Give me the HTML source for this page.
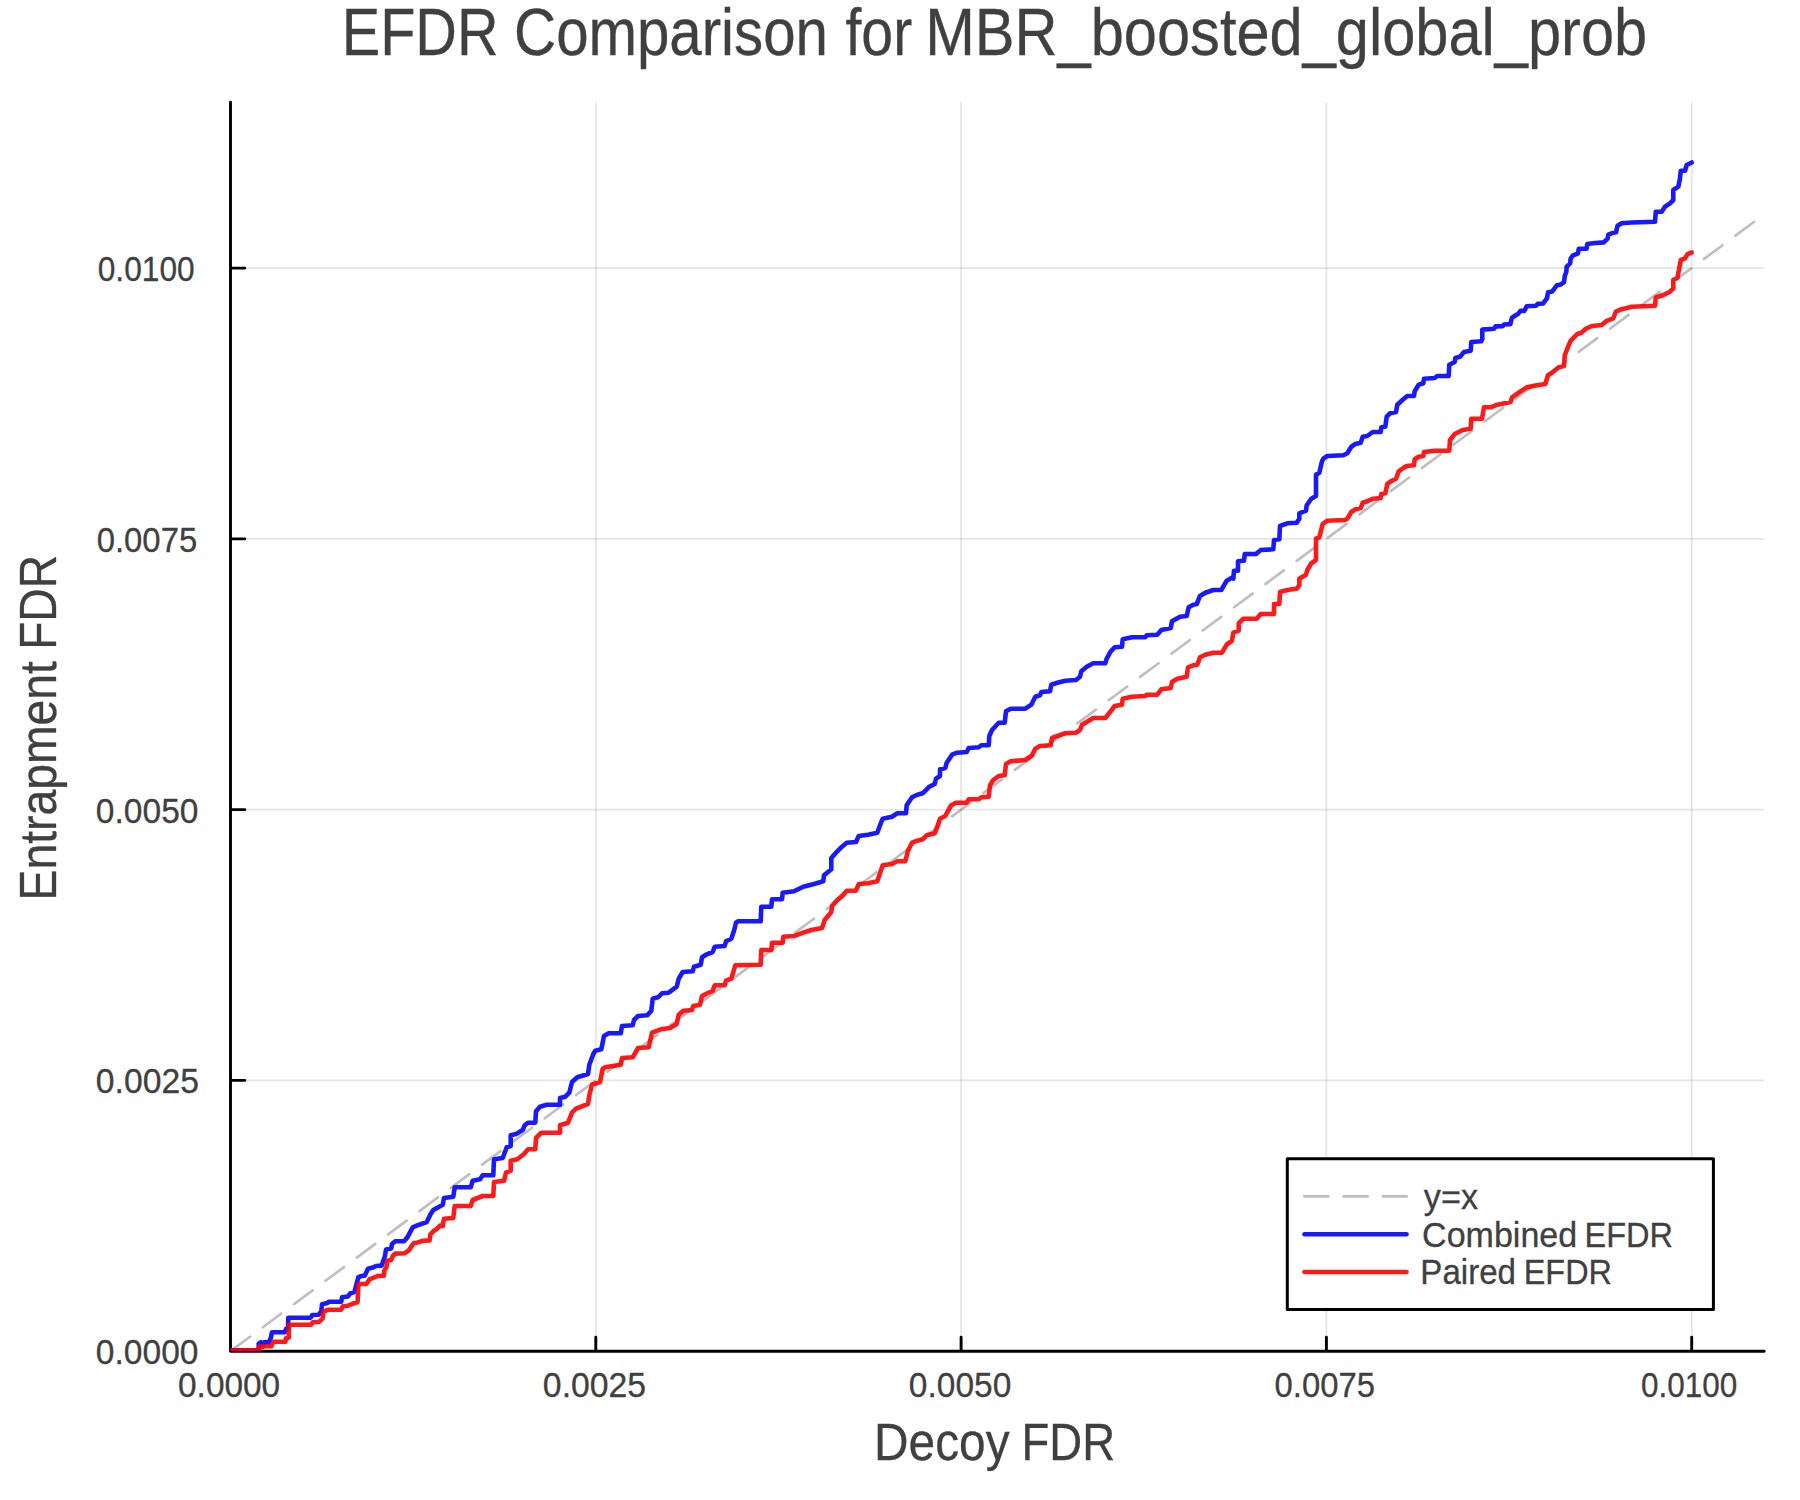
<!DOCTYPE html>
<html><head><meta charset="utf-8"><title>EFDR Comparison for MBR_boosted_global_prob</title>
<style>html,body{margin:0;padding:0;background:#fff;width:1800px;height:1500px;overflow:hidden}svg{display:block}</style>
</head><body>
<svg width="1800" height="1500" viewBox="0 0 1800 1500" font-family="'Liberation Sans', Arial, Helvetica, sans-serif">
<rect width="1800" height="1500" fill="#fff"/>
<path d="M595.80 102.3V1351.20M961.10 102.3V1351.20M1326.40 102.3V1351.20M1691.70 102.3V1351.20" stroke="#000" stroke-opacity="0.1" stroke-width="1.8" fill="none"/>
<path d="M230.50 1080.42H1764.2M230.50 809.64H1764.2M230.50 538.86H1764.2M230.50 268.08H1764.2" stroke="#000" stroke-opacity="0.1" stroke-width="1.8" fill="none"/>
<path d="M230.50 102.3V1351.20H1764.2M230.50 1351.20V1337.20M230.50 1351.20H244.80M595.80 1351.20V1337.20M230.50 1080.42H244.80M961.10 1351.20V1337.20M230.50 809.64H244.80M1326.40 1351.20V1337.20M230.50 538.86H244.80M1691.70 1351.20V1337.20M230.50 268.08H244.80" stroke="#000" stroke-width="2.9" fill="none" stroke-linecap="round" stroke-linejoin="round"/>
<text transform="translate(178.06 1397.00) scale(0.9486 1)" font-size="35.2" fill="#404040" stroke="#404040" stroke-width="0.3">0.0000</text>
<text transform="translate(95.86 1364.20) scale(0.9533 1)" font-size="35.2" fill="#404040" stroke="#404040" stroke-width="0.3">0.0000</text>
<text transform="translate(542.85 1397.00) scale(0.9594 1)" font-size="35.2" fill="#404040" stroke="#404040" stroke-width="0.3">0.0025</text>
<text transform="translate(95.85 1093.42) scale(0.9575 1)" font-size="35.2" fill="#404040" stroke="#404040" stroke-width="0.3">0.0025</text>
<text transform="translate(908.86 1397.00) scale(0.9514 1)" font-size="35.2" fill="#404040" stroke="#404040" stroke-width="0.3">0.0050</text>
<text transform="translate(95.86 822.64) scale(0.9533 1)" font-size="35.2" fill="#404040" stroke="#404040" stroke-width="0.3">0.0050</text>
<text transform="translate(1274.59 1397.00) scale(0.9336 1)" font-size="35.2" fill="#404040" stroke="#404040" stroke-width="0.3">0.0075</text>
<text transform="translate(96.69 551.86) scale(0.9336 1)" font-size="35.2" fill="#404040" stroke="#404040" stroke-width="0.3">0.0075</text>
<text transform="translate(1640.94 1397.00) scale(0.8952 1)" font-size="35.2" fill="#404040" stroke="#404040" stroke-width="0.3">0.0100</text>
<text transform="translate(97.73 281.08) scale(0.9009 1)" font-size="35.2" fill="#404040" stroke="#404040" stroke-width="0.3">0.0100</text>
<text transform="translate(341.70 54.80) scale(0.8695 1)" font-size="66.3" fill="#404040" stroke="#404040" stroke-width="0.3">EFDR</text>
<text transform="translate(514.09 54.80) scale(0.8782 1)" font-size="66.3" fill="#404040" stroke="#404040" stroke-width="0.3">Comparison</text>
<text transform="translate(845.49 54.80) scale(0.8625 1)" font-size="66.3" fill="#404040" stroke="#404040" stroke-width="0.3">for</text>
<text transform="translate(925.23 54.80) scale(0.8986 1)" font-size="66.3" fill="#404040" stroke="#404040" stroke-width="0.3">MBR_boosted_global_prob</text>
<text transform="translate(874.12 1459.90) scale(0.9257 1)" font-size="51.6" fill="#404040" stroke="#404040" stroke-width="0.3">Decoy</text>
<text transform="translate(1021.51 1459.90) scale(0.8816 1)" font-size="51.6" fill="#404040" stroke="#404040" stroke-width="0.3">FDR</text>
<text transform="translate(56.20 900.46) rotate(-90) scale(0.8907 1)" font-size="52" fill="#404040" stroke="#404040" stroke-width="0.3">Entrapment</text>
<text transform="translate(56.20 649.85) rotate(-90) scale(0.8879 1)" font-size="52" fill="#404040" stroke="#404040" stroke-width="0.3">FDR</text>
<defs><clipPath id="pc"><rect x="230.50" y="102.3" width="1533.70" height="1248.90"/></clipPath></defs>
<g clip-path="url(#pc)">
<path d="M230.50 1351.20L1754.00 221.90" stroke="#808080" stroke-opacity="0.5" stroke-width="2.7" stroke-dasharray="23 16" stroke-dashoffset="-1.25" stroke-linecap="round" fill="none"/>
<polyline points="230.6,1350.3 258.7,1350.3 258.7,1343.7 260.7,1342.3 262.3,1344.7 264.0,1342.3 268.7,1342.3 270.7,1338.3 272.0,1332.3 284.7,1332.3 286.0,1329.0 288.0,1328.3 288.3,1317.7 310.7,1317.7 312.3,1315.0 318.7,1314.7 321.3,1311.3 322.0,1304.3 327.3,1303.0 328.7,1301.7 341.3,1301.7 342.0,1297.3 348.0,1296.4 350.4,1293.2 354.4,1292.0 358.4,1277.2 361.6,1276.0 364.8,1275.6 368.0,1268.8 372.8,1267.6 376.0,1266.0 381.6,1265.6 384.8,1256.8 386.0,1249.6 391.2,1248.4 392.0,1244.0 395.2,1241.2 404.0,1241.2 407.2,1237.6 412.7,1227.3 417.3,1225.3 426.7,1222.0 430.7,1214.0 433.3,1210.0 442.7,1204.7 444.0,1198.0 453.3,1196.7 454.7,1187.3 470.7,1187.3 472.7,1180.7 480.0,1179.3 482.7,1175.3 493.3,1175.3 494.0,1159.3 502.7,1158.0 506.7,1147.3 510.7,1146.0 510.7,1135.3 516.0,1134.0 522.7,1130.0 524.7,1125.3 528.0,1122.7 535.3,1122.7 536.0,1111.3 540.0,1106.7 546.7,1104.7 560.0,1104.7 560.0,1098.0 565.3,1096.7 569.3,1092.7 572.0,1082.0 577.3,1077.3 588.0,1074.0 589.3,1064.7 593.3,1054.0 595.3,1050.7 601.3,1049.3 604.0,1036.0 608.7,1033.3 620.7,1033.3 622.0,1026.0 632.7,1025.3 634.0,1020.0 638.0,1016.0 647.3,1015.3 651.3,1010.7 652.7,998.7 658.0,997.3 662.0,993.3 668.7,992.7 676.7,986.7 678.7,978.7 682.7,972.0 692.7,971.3 694.0,966.7 700.7,964.7 702.0,957.3 706.0,954.7 712.7,952.0 714.7,946.7 724.7,946.0 726.0,941.3 731.3,938.7 734.0,930.7 736.0,922.7 738.0,921.3 760.7,921.3 761.3,906.7 771.3,906.7 772.0,899.3 782.0,899.3 782.7,892.7 794.0,891.3 803.3,886.7 814.0,884.0 823.3,881.3 824.0,875.3 831.3,869.3 831.3,858.0 836.0,852.7 842.0,846.7 846.7,842.7 856.0,842.0 858.7,836.0 868.0,834.7 877.3,832.7 880.0,825.3 882.7,818.7 892.0,816.7 897.3,813.3 906.0,813.3 906.7,805.3 912.0,797.3 917.3,794.7 922.7,793.3 929.3,786.7 934.7,784.0 936.0,778.7 940.0,776.0 940.0,769.3 945.3,768.0 946.7,762.7 952.0,754.7 957.3,752.7 966.7,752.0 968.7,748.0 978.7,747.3 981.3,745.3 988.7,745.3 989.3,736.0 992.0,730.0 998.7,722.7 1004.7,722.7 1006.0,711.3 1010.7,708.7 1025.3,708.7 1031.3,704.7 1035.3,696.7 1040.0,695.3 1041.3,692.0 1050.0,691.3 1051.3,684.7 1057.3,682.7 1065.3,680.7 1076.0,680.0 1080.0,676.7 1081.3,671.3 1086.7,666.7 1093.3,663.3 1105.3,663.3 1106.7,658.7 1110.7,651.3 1114.7,647.3 1122.0,646.7 1122.7,639.3 1132.0,637.3 1145.3,637.3 1146.7,635.3 1157.3,634.7 1161.3,630.0 1170.7,628.0 1172.0,621.3 1180.0,616.7 1186.7,616.0 1188.7,607.3 1193.3,604.7 1196.7,604.0 1200.0,596.0 1205.3,592.7 1213.3,590.0 1221.3,590.0 1226.7,580.7 1232.7,577.3 1233.3,578.7 1234.0,570.7 1238.0,570.7 1238.0,561.3 1244.0,560.7 1244.7,554.0 1256.0,554.0 1260.7,550.0 1273.3,549.3 1274.0,540.0 1279.3,539.3 1280.0,526.0 1287.3,523.3 1296.7,522.7 1299.3,518.7 1299.3,513.3 1306.0,510.7 1306.7,505.3 1311.3,498.7 1316.0,496.0 1316.0,474.7 1319.3,472.7 1322.0,461.3 1323.3,458.7 1327.3,456.0 1343.3,455.3 1347.3,453.3 1351.3,446.7 1355.3,444.0 1360.7,442.7 1362.7,436.7 1367.3,436.0 1372.7,432.0 1380.7,432.0 1381.3,427.3 1385.3,426.7 1386.7,416.7 1390.0,413.3 1396.0,412.0 1397.3,404.7 1403.3,399.3 1407.3,396.0 1414.0,396.0 1414.7,391.3 1418.7,384.7 1423.3,383.3 1424.0,378.7 1434.7,378.0 1437.3,376.0 1448.7,376.0 1449.3,364.7 1454.7,362.0 1455.3,358.0 1460.0,356.7 1464.0,352.0 1470.7,350.7 1471.3,342.0 1481.3,341.3 1482.3,338.9 1482.3,329.6 1494.0,328.8 1495.6,326.4 1502.6,326.1 1504.1,324.5 1510.3,324.1 1511.9,317.9 1515.0,315.6 1518.1,314.0 1520.4,310.9 1524.3,310.9 1526.7,306.2 1536.0,305.8 1537.6,303.9 1543.0,303.5 1546.9,298.4 1548.1,292.2 1552.3,291.4 1557.0,285.2 1560.9,284.4 1564.0,282.1 1564.8,275.9 1566.3,272.0 1566.7,266.6 1570.2,263.4 1570.6,258.8 1572.6,255.7 1578.0,253.3 1578.8,248.7 1586.6,248.7 1587.3,244.0 1592.8,243.2 1603.7,242.4 1607.6,238.6 1608.3,234.7 1612.2,233.1 1616.1,232.3 1617.5,225.8 1621.7,223.3 1631.7,222.5 1655.0,221.7 1655.8,211.7 1661.7,211.7 1665.0,206.7 1670.0,203.3 1673.3,200.0 1673.3,190.0 1678.3,186.7 1680.0,178.3 1680.8,170.8 1685.0,170.8 1686.7,165.0 1691.7,162.5" fill="none" stroke="#0000ff" stroke-opacity="0.9" stroke-width="4.6" stroke-linejoin="round" stroke-linecap="round"/>
<polyline points="230.6,1350.3 258.7,1350.3 259.3,1346.3 262.7,1347.0 264.0,1346.3 271.3,1346.3 273.3,1341.7 285.3,1341.7 286.0,1338.3 288.7,1337.7 289.0,1324.7 311.3,1324.7 312.7,1322.3 319.3,1321.7 322.7,1318.3 323.3,1311.7 326.7,1310.3 328.7,1309.7 341.3,1309.7 342.7,1306.3 348.0,1305.7 352.0,1304.0 357.6,1302.0 358.4,1284.0 366.4,1284.0 369.6,1279.2 372.0,1278.4 377.6,1276.0 384.0,1275.6 384.4,1270.4 386.4,1267.2 387.2,1260.8 391.2,1260.0 392.8,1256.0 395.2,1253.6 404.8,1253.2 408.8,1250.4 413.6,1243.2 417.6,1242.4 423.2,1240.8 429.6,1240.4 430.4,1234.4 433.6,1231.2 436.8,1228.8 440.0,1225.6 442.7,1226.0 444.0,1218.7 453.3,1218.0 454.7,1206.0 470.7,1206.0 472.7,1200.0 482.7,1196.0 493.3,1196.0 494.0,1182.0 504.0,1180.7 506.0,1172.7 510.7,1170.7 510.7,1160.7 517.3,1159.3 524.0,1154.0 528.0,1149.3 535.3,1149.3 536.0,1138.0 541.3,1132.7 560.0,1132.7 560.0,1125.3 568.0,1122.7 572.0,1112.7 576.0,1108.7 588.0,1104.0 589.3,1095.3 592.0,1084.7 600.0,1082.0 602.7,1068.7 605.3,1067.3 620.7,1064.7 622.0,1058.0 632.7,1057.3 638.0,1048.0 648.7,1047.3 652.0,1032.7 660.7,1029.3 670.0,1028.0 676.7,1024.0 678.7,1014.7 683.3,1010.7 692.0,1010.0 693.3,1006.0 700.0,1004.7 702.0,996.0 707.3,993.3 712.7,990.7 714.7,985.3 724.7,985.3 726.0,980.7 731.3,978.7 735.3,965.3 760.7,964.7 761.3,950.0 771.3,950.0 772.0,942.7 782.7,942.7 783.3,936.7 794.0,936.0 803.3,932.7 811.3,930.0 822.0,928.0 824.7,920.0 831.3,912.0 832.0,906.0 837.3,900.0 842.0,896.0 846.7,890.7 856.0,890.7 858.7,884.0 868.0,883.3 877.3,881.3 880.0,873.3 882.7,865.3 892.0,864.0 897.3,861.3 905.3,861.3 908.0,850.7 912.0,842.7 917.3,840.7 922.7,839.3 926.7,835.3 934.7,833.3 937.3,826.7 940.0,818.7 945.3,816.0 948.0,810.7 951.3,805.3 956.0,802.7 966.7,802.7 968.7,799.3 978.7,799.3 981.3,797.3 988.7,796.7 990.0,785.3 993.3,780.0 998.7,776.0 1004.7,775.3 1006.0,764.0 1010.7,761.3 1025.3,760.0 1032.0,755.3 1035.3,748.7 1040.0,746.0 1050.7,745.3 1052.0,738.0 1057.3,736.0 1065.3,733.3 1076.0,732.7 1080.0,730.0 1082.0,724.7 1086.7,722.0 1093.3,718.0 1105.3,718.0 1110.7,711.3 1114.7,706.0 1122.0,704.7 1122.7,698.7 1132.0,696.7 1145.3,696.0 1146.7,694.7 1157.3,694.7 1161.3,689.3 1170.7,688.0 1172.0,682.0 1177.3,678.7 1186.7,676.7 1188.0,667.3 1193.3,665.3 1197.3,664.7 1200.0,657.3 1205.3,654.7 1213.3,652.7 1222.0,652.7 1226.7,644.7 1232.0,640.7 1233.3,632.7 1238.7,630.7 1238.7,623.3 1243.3,618.7 1256.7,618.7 1260.7,614.0 1274.0,614.0 1274.0,604.0 1279.3,604.0 1280.0,592.0 1287.3,590.0 1296.7,588.7 1299.3,585.3 1299.3,578.7 1306.0,574.7 1307.3,570.0 1311.3,563.3 1316.0,560.0 1316.0,538.7 1319.3,537.3 1322.7,524.0 1327.3,520.7 1344.7,520.0 1347.3,518.7 1351.3,512.0 1355.3,509.3 1360.7,508.0 1362.7,502.7 1368.7,500.7 1373.3,498.7 1380.7,498.0 1381.3,494.0 1385.3,493.3 1387.3,484.0 1392.0,480.7 1396.0,478.7 1398.7,471.3 1403.3,468.0 1406.7,466.0 1414.0,465.3 1414.7,459.3 1418.7,456.7 1423.3,456.0 1424.0,452.0 1434.7,450.7 1449.3,450.7 1450.0,440.0 1454.7,434.0 1462.7,430.0 1470.7,428.7 1471.3,418.7 1482.0,418.7 1484.0,407.3 1490.7,407.3 1497.3,404.7 1510.7,402.0 1512.0,397.3 1518.7,392.7 1526.7,387.3 1537.3,385.3 1545.3,384.0 1548.0,375.3 1552.0,372.7 1558.7,367.3 1564.0,366.0 1564.7,355.3 1567.3,348.7 1570.7,340.7 1577.3,334.0 1581.3,332.7 1586.0,328.7 1592.0,326.0 1601.7,325.0 1606.7,320.8 1613.3,318.3 1615.8,311.7 1621.7,309.2 1631.7,306.7 1655.0,305.8 1655.8,297.5 1663.3,295.0 1670.0,291.7 1673.3,288.3 1673.3,280.0 1677.5,277.5 1680.8,260.0 1685.0,258.3 1687.5,254.2 1691.7,252.5" fill="none" stroke="#ff0000" stroke-opacity="0.9" stroke-width="4.6" stroke-linejoin="round" stroke-linecap="round"/>
</g>
<rect x="1287.3" y="1158.8" width="426.1" height="150.7" fill="#fff" stroke="#000" stroke-width="3.0" stroke-linejoin="round"/>
<path d="M1304.3 1196.4H1406.7" stroke="#808080" stroke-opacity="0.5" stroke-width="2.7" stroke-dasharray="24 15.3" stroke-linecap="round" fill="none"/>
<path d="M1304.5 1234.2H1406.5" stroke="#0000ff" stroke-opacity="0.9" stroke-width="4.6" stroke-linecap="round" fill="none"/>
<path d="M1304.5 1272H1406.5" stroke="#ff0000" stroke-opacity="0.9" stroke-width="4.6" stroke-linecap="round" fill="none"/>
<text transform="translate(1423.79 1208.60) scale(0.9680 1)" font-size="35.4" fill="#404040" stroke="#404040" stroke-width="0.3">y=x</text>
<text transform="translate(1422.10 1247.00) scale(0.9586 1)" font-size="35.5" fill="#404040" stroke="#404040" stroke-width="0.3">Combined</text>
<text transform="translate(1584.59 1247.00) scale(0.9158 1)" font-size="35.5" fill="#404040" stroke="#404040" stroke-width="0.3">EFDR</text>
<text transform="translate(1420.34 1283.70) scale(0.9323 1)" font-size="35.5" fill="#404040" stroke="#404040" stroke-width="0.3">Paired</text>
<text transform="translate(1523.70 1283.70) scale(0.9136 1)" font-size="35.5" fill="#404040" stroke="#404040" stroke-width="0.3">EFDR</text>
</svg></body></html>
